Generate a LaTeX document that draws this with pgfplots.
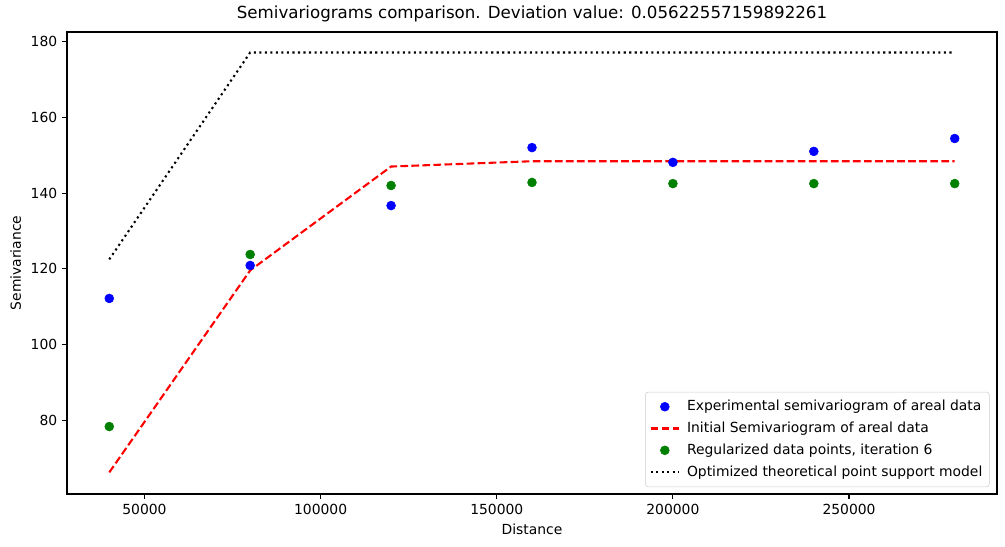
\documentclass[border=0pt]{standalone}
\usepackage{pgfplots}
\pgfplotsset{compat=1.18}
\usepackage{fontspec}
\setmainfont{DejaVu Sans}
\definecolor{mplgreen}{RGB}{0,128,0}
\begin{document}
\begin{tikzpicture}
\useasboundingbox (-48.24pt,-38.16pt) rectangle (675.36pt,355.68pt);
\begin{axis}[
  at={(0,0)}, anchor=south west,
  scale only axis,
  width=669.6pt, height=332.64pt,
  xmin=28000, xmax=292000,
  ymin=60.6, ymax=182.5,
  xtick={50000,100000,150000,200000,250000},
  xticklabels={50000,100000,150000,200000,250000},
  ytick={80,100,120,140,160,180},
  yticklabels={80,100,120,140,160,180},
  scaled x ticks=false,
  tick align=outside,
  tick pos=left,
  major tick length=3.5pt,
  every tick/.style={black, line width=0.8pt},
  axis line style={line width=0.8pt},
  tick label style={font=\fontsize{10}{12}\selectfont},
  xlabel={Distance}, ylabel={Semivariance},
  label style={font=\fontsize{10}{12}\selectfont},
  title={Semivariograms comparison. Deviation value: 0.05622557159892261},
  title style={font=\fontsize{12}{14}\selectfont, yshift=-2pt},
  legend image code/.code={
    \draw[mark repeat=2, mark phase=2, #1]
      plot coordinates {(0cm,0cm) (0.36cm,0cm) (0.72cm,0cm)};},
  legend style={font=\fontsize{10}{12}\selectfont, draw=black!20, rounded corners=2pt,
    at={(0.992,0.015)}, anchor=south east, inner xsep=3pt, inner ysep=4pt, row sep=2.6pt,
    cells={anchor=west}, /tikz/every odd column/.append style={column sep=3pt}},
  legend cell align=left,
]
\addplot[only marks, mark=*, mark size=3.2pt, color=blue] coordinates {
  (40000,112.2) (80000,120.9) (120000,136.7) (160000,152.0)
  (200000,148.1) (240000,151.0) (280000,154.4)};
\addlegendentry{Experimental semivariogram of areal data}
\addplot[red, line width=1.5pt, dash pattern=on 5.55pt off 2.4pt] coordinates {
  (40000,66.3) (80000,119.6) (120000,147.0) (160000,148.4)
  (200000,148.4) (240000,148.4) (280000,148.4)};
\addlegendentry{Initial Semivariogram of areal data}
\addplot[only marks, mark=*, mark size=3.2pt, color=mplgreen] coordinates {
  (40000,78.4) (80000,123.8) (120000,142.0) (160000,142.8)
  (200000,142.5) (240000,142.5) (280000,142.5)};
\addlegendentry{Regularized data points, iteration 6}
\addplot[black, line width=1.5pt, dash pattern=on 1.5pt off 2.475pt] coordinates {
  (40000,122.5) (80000,177.1) (120000,177.1) (160000,177.1)
  (200000,177.1) (240000,177.1) (280000,177.1)};
\addlegendentry{Optimized theoretical point support model}
\end{axis}
\end{tikzpicture}
\end{document}
